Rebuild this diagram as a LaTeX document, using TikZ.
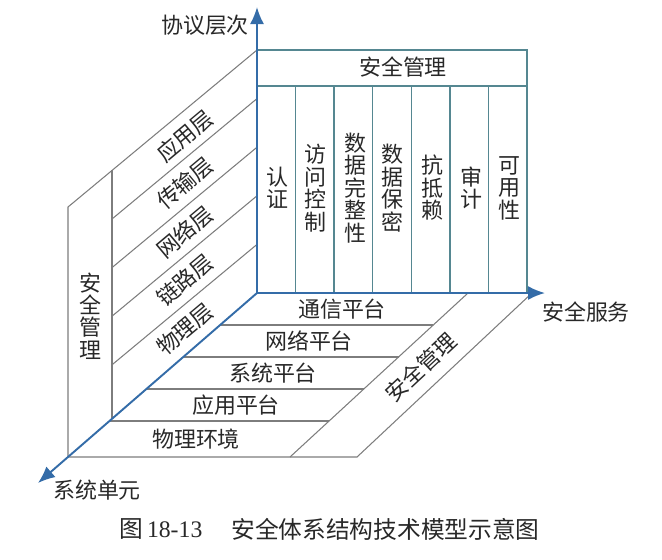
\documentclass[tikz,border=0pt]{standalone}
\usepackage{fontspec}
\setmainfont{Noto Sans CJK SC}
\newfontfamily\numfont{Liberation Serif}
\usetikzlibrary{arrows.meta}
\definecolor{Az}{RGB}{52,108,168}
\definecolor{Gr}{RGB}{125,125,125}
\definecolor{Ve}{RGB}{85,135,145}
\definecolor{Tx}{RGB}{40,40,40}
\tikzset{
  eje/.style={color=Az, line width=1.1pt, -{Latex[length=3.4mm,width=2.8mm]}},
  linea/.style={color=Gr, line width=0.6pt},
  panel/.style={color=Ve, line width=0.8pt},
  txt/.style={text=Tx, inner sep=0pt, font=\fontsize{12.5}{13}\selectfont},
  vtxt/.style={txt, align=center, font=\fontsize{12.5}{12.8}\selectfont}
}

\begin{document}
\begin{tikzpicture}[x=0.02cm, y=-0.02cm]
   \useasboundingbox (0,0) rectangle (662,559);
   \coordinate (O) at (257,293);

   %Panel izquierdo: capas del protocolo
   \draw[linea] (257,50) -- (68,207) -- (68,457);
   \draw[linea] (112,170.4) -- (112,418.8);
   \foreach \y in {98.6,147.2,195.8,244.4}
      \draw[linea] (257,\y) -- (112,\y+120.4);

   %Piso: plataformas y franja de gestion
   \draw[linea] (68,457) -- (357,457) -- (532,293);
   \draw[linea] (290,457) -- (468,293);
   \draw[linea] (220.1,325) -- (433.3,325);
   \draw[linea] (183.2,357) -- (398.5,357);
   \draw[linea] (146.4,389) -- (363.8,389);
   \draw[linea] (109.5,421) -- (329.1,421);

   %Panel frontal: servicios
   \draw[panel] (257,50) rectangle (527,293);
   \draw[panel] (257,86) -- (527,86);
   \foreach \i in {1,...,6}
      \draw[panel] (257+38.57*\i,86) -- (257+38.57*\i,293);

   %Ejes
   \draw[eje] (O) -- (257,7);
   \draw[eje] (O) -- (545,293);
   \draw[eje] (O) -- (38,483);

   \node[txt] (proto) at (205,25) {协议层次};
   \node[txt] (serv) at (586,312) {安全服务};
   \node[txt] (unid) at (97,490) {系统单元};

   %Textos del panel frontal
   \node[txt] (gestSup) at (403,67) {安全管理};
   \foreach \x/\t [count=\k] in {277/{认\\证}, 315/{访\\问\\控\\制},
      355/{数\\据\\完\\整\\性}, 392/{数\\据\\保\\密}, 432/{抗\\抵\\赖},
      471/{审\\计}, 509/{可\\用\\性}}
      \node[vtxt] (srv\k) at (\x,188) {\t};

   %Textos del panel izquierdo
   \node[vtxt] (gestIzq) at (90,316) {安\\全\\管\\理};
   \foreach \y/\t [count=\k] in {136/应用层, 183/传输层, 231.7/网络层,
      280.3/链路层, 329/物理层}
      \node[txt, rotate=40] (capa\k) at (185,\y) {\t};

   %Textos del piso
   \foreach \x/\y/\t [count=\k] in {342/309/通信平台, 309/341/网络平台,
      273/373/系统平台, 236/405/应用平台, 196/439/物理环境}
      \node[txt] (plat\k) at (\x,\y) {\t};
   \node[txt, rotate=43] (gestPiso) at (421,367) {安全管理};

   %Pie de figura
   \node[txt, anchor=west, font=\fontsize{13.5}{14}\selectfont] (num) at (119,529) {图\,{\numfont 18-13}};
   \node[txt, anchor=west, font=\fontsize{13.5}{14}\selectfont] (tit) at (231,529) {安全体系结构技术模型示意图};
\end{tikzpicture}
\end{document}
